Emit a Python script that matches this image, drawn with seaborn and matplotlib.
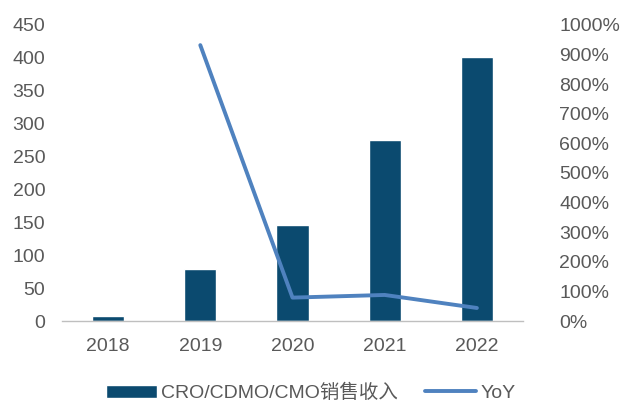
import matplotlib
matplotlib.use("Agg")
import matplotlib.pyplot as plt
import seaborn as sns
import numpy as np
import pandas as pd
from matplotlib.ticker import FuncFormatter, MultipleLocator

years = [2018, 2019, 2020, 2021, 2022]
revenue = [7.6, 79, 146, 275, 401]
yoy = [np.nan, 932, 79, 88, 44]
bar_label = "CRO/CDMO/CMO销售收入"
line_label = "YoY"

sns.set_theme(style="white")
plt.rcParams['font.family'] = ['Liberation Sans', 'Noto Sans CJK SC', 'DejaVu Sans']

bar_color = "#0b4a6f"
line_color = "#4f82bf"
text_color = "#595959"
fs = 14

df = pd.DataFrame({"year": years, "revenue": revenue, "yoy": yoy})

fig = plt.figure(figsize=(6.22, 4.03), dpi=100)
ax = fig.add_axes([62/622, 1-321/403, (523-62)/622, (321-25)/403])
sns.barplot(data=df, x="year", y="revenue", native_scale=True, color=bar_color,
            saturation=1, width=0.35, ax=ax, label=bar_label)
ax2 = ax.twinx()
sns.lineplot(data=df.dropna(), x="year", y="yoy", color=line_color, linewidth=2.8,
             ax=ax2, label=line_label)

ax.set_xlim(2017.5, 2022.5)
ax.set_ylim(0, 450)
ax2.set_ylim(0, 1000)
ax.yaxis.set_major_locator(MultipleLocator(50))
ax2.yaxis.set_major_locator(MultipleLocator(100))
ax2.yaxis.set_major_formatter(FuncFormatter(lambda v, p: f"{v:.0f}%"))

ax.set_xticks(years)
ax.set_xticklabels([str(y) for y in years])
ax.set_xticks(np.arange(2017.5, 2023, 1), minor=True)
ax.tick_params(axis='x', which='major', length=0, pad=12, labelsize=fs, labelcolor=text_color)
ax.tick_params(axis='x', which='minor', length=5, color="#bfbfbf", width=1, direction='out')
ax.tick_params(axis='y', length=0, labelsize=fs, labelcolor=text_color, pad=12)
ax2.tick_params(axis='y', length=0, labelsize=fs, labelcolor=text_color, pad=26)

for a in (ax, ax2):
    a.set_xlabel("")
    a.set_ylabel("")
    for s in a.spines.values():
        s.set_visible(False)
ax.spines['bottom'].set_visible(True)
ax.spines['bottom'].set_color("#bfbfbf")
ax.spines['bottom'].set_linewidth(1)
ax.grid(False)
ax2.grid(False)

h1, l1 = ax.get_legend_handles_labels()
h2, l2 = ax2.get_legend_handles_labels()
if ax.get_legend():
    ax.get_legend().remove()
if ax2.get_legend():
    ax2.get_legend().remove()
leg = fig.legend(h1 + h2, l1 + l2, loc="center", bbox_to_anchor=(0.5, 1-393/403),
                 ncol=2, frameon=False, fontsize=fs, handlelength=2.6,
                 handleheight=0.7, columnspacing=1.4, handletextpad=0.25)
for t in leg.get_texts():
    t.set_color(text_color)

fig.savefig("out.png", dpi=100)
